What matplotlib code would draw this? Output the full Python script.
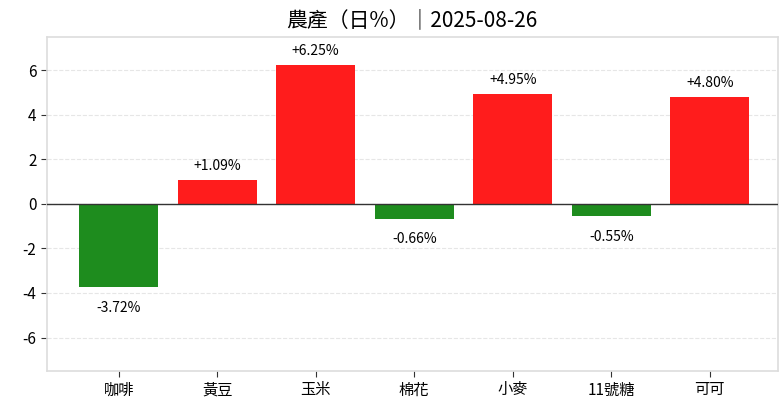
import matplotlib
matplotlib.use("Agg")
import matplotlib.pyplot as plt

plt.rcParams['font.family'] = ['Noto Sans CJK TC', 'DejaVu Sans']
plt.rcParams['axes.unicode_minus'] = False

names = ['咖啡', '黃豆', '玉米', '棉花', '小麥', '11號糖', '可可']
changes = [-3.72, 1.09, 6.25, -0.66, 4.95, -0.55, 4.80]
title = '農產（日%）｜2025-08-26'

red = '#FF1C1C'
green = '#1E8C1E'

fig = plt.figure(figsize=(7.8, 4.01), dpi=100)
ax = fig.add_axes([0.060, 0.075, 0.937, 0.833])

x = list(range(len(names)))
colors = [red if v >= 0 else green for v in changes]
ax.bar(x, changes, width=0.8, color=colors, zorder=3)

ax.axhline(0, color='#333333', linewidth=1, zorder=4)
ax.grid(axis='y', linestyle='--', color='#e6e6e6', linewidth=0.8, zorder=0)

for xi, v in zip(x, changes):
    if v >= 0:
        ax.annotate(f'{v:+.2f}%', (xi, v), xytext=(0, 5), textcoords='offset points',
                    ha='center', va='bottom', fontsize=10)
    else:
        ax.annotate(f'{v:+.2f}%', (xi, v), xytext=(0, -10), textcoords='offset points',
                    ha='center', va='top', fontsize=10)

ax.set_xticks(x)
ax.set_xticklabels(names, fontsize=11)
ax.set_yticks([-6, -4, -2, 0, 2, 4, 6])
ax.tick_params(axis='y', labelsize=11, length=4, color='#333333')
ax.tick_params(axis='x', length=4, color='#333333')
ax.set_xlim(-0.73, 6.69)
ax.set_ylim(-7.5, 7.5)

for s in ax.spines.values():
    s.set_color('#dddddd')
    s.set_linewidth(1.2)

ax.set_title(title, fontsize=15, fontweight='medium', pad=8)

fig.savefig('out.png', dpi=100)
